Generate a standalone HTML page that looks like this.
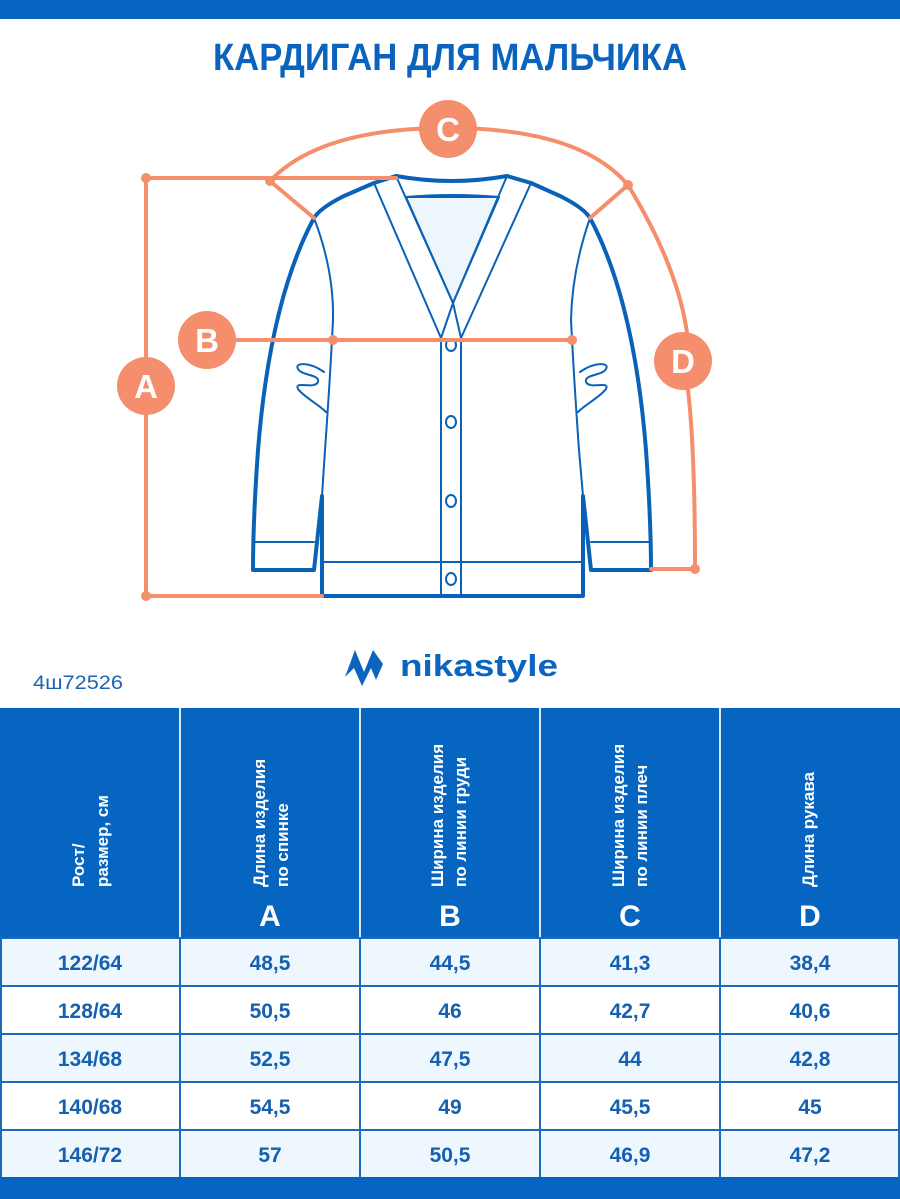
<!DOCTYPE html>
<html><head><meta charset="utf-8"><style>
html,body{margin:0;padding:0;background:#fff;}
svg{display:block;}
</style></head><body>
<svg width="900" height="1199" viewBox="0 0 900 1199" xmlns="http://www.w3.org/2000/svg" font-family="Liberation Sans, sans-serif">
<rect x="0" y="0" width="900" height="19" fill="#0565c0"/>
<text x="450" y="70" text-anchor="middle" font-size="38" font-weight="bold" fill="#0a64bd" textLength="474" lengthAdjust="spacingAndGlyphs">КАРДИГАН ДЛЯ МАЛЬЧИКА</text>

<!-- cardigan -->
<g fill="none" stroke="#0a62b8" stroke-linejoin="round" stroke-linecap="round">
  <path d="M406,197 L499,197 L453,303 Z" fill="#eef6fd" stroke-width="2"/>
  <path d="M396,176 Q452,186 507,176" stroke-width="4"/>
  <path d="M406,197 Q452,193 499,197" stroke-width="2"/>
  <!-- body outer -->
  <path d="M374,183 L344,196 Q320,208 314,218 Q270,300 258,450 Q253,520 253,570 L314,570 L322,496 L322,596 L583,596 L583,496 L591,570 L651,570 Q651,520 646,450 Q634,300 590,218 Q584,208 560,196 L531,183" stroke-width="4"/>
  <path d="M374,183 L396,176 M531,183 L507,176" stroke-width="4"/>
  <!-- sleeve inner lines -->
  <path d="M314,218 Q334,270 333,320 Q330,380 325,450 L322,496" stroke-width="2"/>
  <path d="M590,218 Q572,270 571,320 Q574,380 579,450 L583,496" stroke-width="2"/>
  <path d="M254,542 L314,542 M591,542 L650,542" stroke-width="2"/>
  <path d="M322,562 L583,562" stroke-width="2"/>
  <!-- placket / V -->
  <path d="M374,183 L441,338 L441,596 M396,176 L453,303 L507,176 M531,183 L461,338 L461,596" stroke-width="2"/>
  <path d="M441,338 L453,303 L461,338" stroke-width="2"/>
  <!-- hands -->
  <path d="M324,372 C310,362 294,362 298,369 C302,376 320,374 318,382 C314,390 294,380 298,389 C304,397 318,404 326,412" stroke-width="2"/>
  <path d="M580,372 C594,362 610,362 606,369 C602,376 584,374 586,382 C590,390 610,380 606,389 C600,397 586,404 578,412" stroke-width="2"/>
  <!-- buttons -->
  <ellipse cx="451" cy="345" rx="5" ry="6" stroke-width="2"/>
  <ellipse cx="451" cy="422" rx="5" ry="6" stroke-width="2"/>
  <ellipse cx="451" cy="501" rx="5" ry="6" stroke-width="2"/>
  <ellipse cx="451" cy="579" rx="5" ry="6" stroke-width="2"/>
</g>

<!-- measurements -->
<g stroke="#f58e6c" stroke-width="4" fill="none" stroke-linecap="round">
  <path d="M146,178 L146,596"/>
  <path d="M146,178 L396,178"/>
  <path d="M146,596 L322,596"/>
  <path d="M237,340 L572,340"/>
  <path d="M270,181 Q320,128 448,128 Q580,128 628,185"/>
  <path d="M270,181 L314,218 M628,185 L590,218"/>
  <path d="M628,185 Q680,270 688,340 M688,390 Q695,450 695,569 L651,569"/>
</g>
<g fill="#f58e6c">
  <circle cx="146" cy="178" r="5"/><circle cx="146" cy="596" r="5"/>
  <circle cx="270" cy="181" r="5"/><circle cx="628" cy="185" r="5"/>
  <circle cx="333" cy="340" r="5"/><circle cx="572" cy="340" r="5"/>
  <circle cx="695" cy="569" r="5"/>
  <ellipse cx="146" cy="386" rx="29" ry="29"/>
  <ellipse cx="207" cy="340" rx="29" ry="29"/>
  <ellipse cx="448" cy="129" rx="29" ry="29"/>
  <ellipse cx="683" cy="361" rx="29" ry="29"/>
</g>
<g fill="#fff" font-size="33" font-weight="bold" text-anchor="middle">
  <text x="146" y="398">A</text>
  <text x="207" y="352">B</text>
  <text x="448" y="141">C</text>
  <text x="683" y="373">D</text>
</g>

<!-- logo -->
<path d="M345,677 L355,650 L364,672 L373,650 L383,664 L376,680 L371,668 L362,686 L354,668 Z" fill="#0a64c0"/>
<text x="400" y="676" font-size="31" font-weight="bold" fill="#0a64c0" textLength="158" lengthAdjust="spacingAndGlyphs">nikastyle</text>
<text x="33" y="689" font-size="19" fill="#1a63b5" textLength="90" lengthAdjust="spacingAndGlyphs">4ш72526</text>

<!-- table -->
<rect x="0" y="708" width="900" height="230" fill="#0565c0"/>
<g stroke="#dbe9f6" stroke-width="2">
  <line x1="180" y1="708" x2="180" y2="938"/><line x1="360" y1="708" x2="360" y2="938"/>
  <line x1="540" y1="708" x2="540" y2="938"/><line x1="720" y1="708" x2="720" y2="938"/>
</g>
<g fill="#fff" font-size="17" font-weight="bold">
  <text transform="translate(84,887) rotate(-90)">Рост/</text>
  <text transform="translate(108,887) rotate(-90)">размер, см</text>
  <text transform="translate(265,887) rotate(-90)">Длина изделия</text>
  <text transform="translate(288,887) rotate(-90)">по спинке</text>
  <text transform="translate(443,887) rotate(-90)">Ширина изделия</text>
  <text transform="translate(466,887) rotate(-90)">по линии груди</text>
  <text transform="translate(624,887) rotate(-90)">Ширина изделия</text>
  <text transform="translate(647,887) rotate(-90)">по линии плеч</text>
  <text transform="translate(814,887) rotate(-90)">Длина рукава</text>
</g>
<g fill="#fff" font-size="30" font-weight="bold" text-anchor="middle">
  <text x="270" y="926">A</text><text x="450" y="926">B</text><text x="630" y="926">C</text><text x="810" y="926">D</text>
</g>
<rect x="0" y="938" width="900" height="48" fill="#eef7fe"/>
<rect x="0" y="1034" width="900" height="48" fill="#eef7fe"/>
<rect x="0" y="1130" width="900" height="47" fill="#eef7fe"/>
<g stroke="#1c6ac0" stroke-width="2" fill="none">
  <line x1="0" y1="938" x2="900" y2="938"/>
  <line x1="0" y1="986" x2="900" y2="986"/>
  <line x1="0" y1="1034" x2="900" y2="1034"/>
  <line x1="0" y1="1082" x2="900" y2="1082"/>
  <line x1="0" y1="1130" x2="900" y2="1130"/>
  <line x1="1" y1="938" x2="1" y2="1177"/>
  <line x1="180" y1="938" x2="180" y2="1177"/><line x1="360" y1="938" x2="360" y2="1177"/>
  <line x1="540" y1="938" x2="540" y2="1177"/><line x1="720" y1="938" x2="720" y2="1177"/>
  <line x1="899" y1="938" x2="899" y2="1177"/>
</g>
<rect x="0" y="1177" width="900" height="22" fill="#0565c0"/>
<g fill="#1560b0" font-size="21" font-weight="bold" text-anchor="middle">
  <text x="90" y="970">122/64</text><text x="270" y="970">48,5</text><text x="450" y="970">44,5</text><text x="630" y="970">41,3</text><text x="810" y="970">38,4</text>
  <text x="90" y="1018">128/64</text><text x="270" y="1018">50,5</text><text x="450" y="1018">46</text><text x="630" y="1018">42,7</text><text x="810" y="1018">40,6</text>
  <text x="90" y="1066">134/68</text><text x="270" y="1066">52,5</text><text x="450" y="1066">47,5</text><text x="630" y="1066">44</text><text x="810" y="1066">42,8</text>
  <text x="90" y="1114">140/68</text><text x="270" y="1114">54,5</text><text x="450" y="1114">49</text><text x="630" y="1114">45,5</text><text x="810" y="1114">45</text>
  <text x="90" y="1162">146/72</text><text x="270" y="1162">57</text><text x="450" y="1162">50,5</text><text x="630" y="1162">46,9</text><text x="810" y="1162">47,2</text>
</g>
</svg>
</body></html>
